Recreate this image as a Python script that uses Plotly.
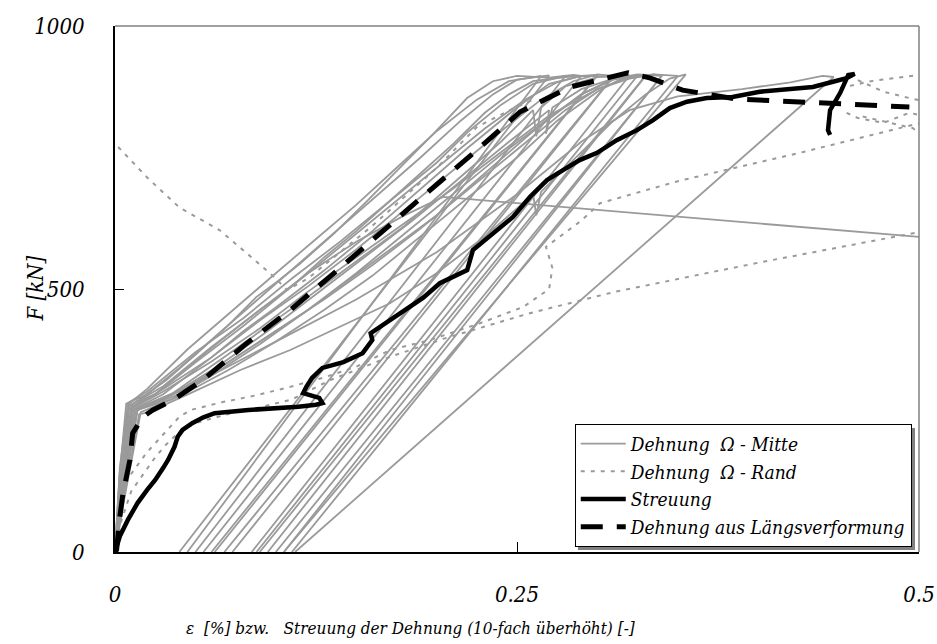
import plotly.graph_objects as go

# ---------------- data ----------------
# "Dehnung Omega - Mitte" (solid grey) : strain [%] vs force [kN]
MITTE_A_X = [0, 0.002, 0.005, 0.008, 0.015, 0.032, 0.05, 0.07, 0.088, 0.1, 0.115, 0.136, 0.157, 0.177, 0.198, 0.219, 0.235, 0.25, 0.27, 0.285, 0.29, 0.055]
MITTE_A_F = [0, 90, 200, 276, 290, 327, 375, 430, 485, 512, 548, 605, 668, 730, 795, 863, 895, 905, 902, 907, 905, 0]
MITTE_B_X = [0, 0.003, 0.007, 0.011, 0.025, 0.045, 0.065, 0.09, 0.11, 0.13, 0.15, 0.17, 0.19, 0.21, 0.23, 0.245, 0.26, 0.28, 0.30, 0.062]
MITTE_B_F = [0, 110, 220, 282, 300, 350, 400, 460, 505, 560, 610, 665, 720, 775, 835, 870, 895, 903, 906, 0]
MITTE_C_X = [0, 0.004, 0.008, 0.012, 0.03, 0.06, 0.08, 0.1, 0.13, 0.16, 0.19, 0.22, 0.25, 0.27, 0.29, 0.31, 0.073]
MITTE_C_F = [0, 100, 210, 272, 300, 370, 420, 465, 535, 610, 690, 770, 845, 890, 905, 904, 0]
MITTE_D_X = [0, 0.004, 0.01, 0.035, 0.07, 0.1, 0.12, 0.14, 0.18, 0.21, 0.24, 0.26, 0.262, 0.265, 0.28, 0.30, 0.32, 0.085]
MITTE_D_F = [0, 130, 268, 300, 375, 440, 485, 530, 620, 700, 780, 840, 790, 845, 885, 903, 906, 0]
MITTE_E_X = [0, 0.005, 0.014, 0.04, 0.08, 0.12, 0.16, 0.2, 0.23, 0.26, 0.29, 0.31, 0.33, 0.095]
MITTE_E_F = [0, 120, 270, 300, 380, 460, 550, 640, 720, 800, 870, 900, 905, 0]
MITTE_F_X = [0, 0.006, 0.015, 0.02, 0.047, 0.078, 0.109, 0.14, 0.171, 0.2, 0.23, 0.26, 0.262, 0.265, 0.29, 0.31, 0.33, 0.345, 0.355, 0.105]
MITTE_F_F = [0, 110, 262, 265, 302, 346, 384, 428, 473, 530, 600, 680, 640, 685, 760, 820, 870, 900, 908, 0]
MITTE_G_X = [0, 0.005, 0.012, 0.05, 0.1, 0.15, 0.2, 0.25, 0.29, 0.32, 0.35, 0.39, 0.42, 0.44, 0.447, 0.112]
MITTE_G_F = [0, 130, 270, 320, 400, 480, 570, 680, 780, 840, 866, 880, 893, 905, 903, 0]
MITTE_H_X = [0, 0.004, 0.009, 0.03, 0.06, 0.09, 0.12, 0.15, 0.18, 0.204, 0.5]
MITTE_H_F = [0, 140, 278, 315, 390, 460, 530, 590, 640, 675, 599]
MITTE_I_X = [0, 0.003, 0.009, 0.02, 0.05, 0.08, 0.11, 0.14, 0.17, 0.2, 0.22, 0.24, 0.26, 0.28, 0.05]
MITTE_I_F = [0, 150, 285, 305, 380, 445, 520, 590, 665, 740, 800, 850, 890, 905, 0]
MITTE_J_X = [0, 0.004, 0.011, 0.03, 0.06, 0.09, 0.12, 0.15, 0.18, 0.21, 0.24, 0.265, 0.285, 0.3, 0.31, 0.068]
MITTE_J_F = [0, 120, 275, 310, 370, 440, 505, 575, 650, 725, 800, 860, 895, 908, 905, 0]
MITTE_K_X = [0, 0.005, 0.013, 0.035, 0.065, 0.095, 0.125, 0.155, 0.185, 0.215, 0.245, 0.27, 0.268, 0.272, 0.29, 0.31, 0.325, 0.34, 0.1]
MITTE_K_F = [0, 115, 268, 298, 355, 420, 490, 560, 630, 705, 780, 840, 795, 845, 880, 900, 908, 905, 0]
MITTE_L_X = [0, 0.003, 0.008, 0.02, 0.045, 0.075, 0.1, 0.125, 0.15, 0.175, 0.2, 0.225, 0.245, 0.265, 0.045]
MITTE_L_F = [0, 160, 280, 310, 385, 465, 530, 595, 660, 730, 800, 860, 895, 905, 0]
MITTE_M_X = [0, 0.004, 0.01, 0.03, 0.06, 0.09, 0.12, 0.15, 0.18, 0.21, 0.24, 0.27, 0.3, 0.32, 0.335, 0.35, 0.11]
MITTE_M_F = [0, 125, 272, 305, 362, 425, 495, 560, 625, 690, 760, 830, 880, 903, 908, 905, 0]
MITTE_N_X = [0, 0.006, 0.016, 0.04, 0.07, 0.1, 0.13, 0.16, 0.19, 0.22, 0.25, 0.275, 0.3, 0.315, 0.33, 0.09]
MITTE_N_F = [0, 105, 266, 296, 345, 400, 460, 525, 600, 675, 750, 820, 875, 900, 906, 0]
MITTE_O_X = [0, 0.004, 0.01, 0.025, 0.05, 0.08, 0.11, 0.14, 0.17, 0.2, 0.23, 0.255, 0.275, 0.29, 0.3, 0.06]
MITTE_O_F = [0, 130, 276, 300, 360, 430, 505, 580, 655, 730, 805, 860, 893, 905, 907, 0]
MITTE_P_X = [0, 0.005, 0.012, 0.04, 0.07, 0.1, 0.13, 0.16, 0.19, 0.22, 0.25, 0.28, 0.3, 0.32, 0.335, 0.34, 0.105]
MITTE_P_F = [0, 115, 270, 305, 360, 420, 480, 545, 615, 690, 765, 840, 880, 900, 908, 905, 0]
MITTE_Q_X = [0, 0.003, 0.007, 0.02, 0.04, 0.07, 0.1, 0.13, 0.16, 0.19, 0.215, 0.235, 0.25, 0.27, 0.04]
MITTE_Q_F = [0, 150, 282, 300, 350, 430, 510, 590, 670, 750, 820, 870, 898, 906, 0]
MITTE_R_X = [0, 0.006, 0.014, 0.035, 0.06, 0.09, 0.12, 0.15, 0.18, 0.21, 0.24, 0.27, 0.29, 0.31, 0.325, 0.088]
MITTE_R_F = [0, 120, 270, 290, 335, 395, 460, 530, 605, 680, 755, 825, 870, 898, 906, 0]

# "Dehnung Omega - Rand" (dotted grey)
RAND_1_X = [0, 0.004, 0.01, 0.018, 0.025, 0.032, 0.04, 0.05, 0.07, 0.09, 0.11, 0.134, 0.17, 0.206, 0.258, 0.31, 0.4, 0.5]
RAND_1_F = [0, 60, 115, 150, 180, 205, 228, 245, 262, 275, 290, 327, 370, 407, 454, 494, 550, 608]
RAND_2_X = [0, 0.003, 0.008, 0.015, 0.02, 0.026, 0.032, 0.04, 0.047, 0.067, 0.088, 0.109, 0.129, 0.15, 0.171, 0.196, 0.227, 0.254, 0.27, 0.272, 0.268, 0.29, 0.3016, 0.35, 0.426, 0.5]
RAND_2_F = [0, 80, 140, 170, 190, 210, 230, 257, 270, 285, 298, 314, 331, 352, 384, 403, 435, 466, 500, 540, 580, 630, 663, 705, 759, 815]
RAND_3_X = [0.002, 0.02, 0.04, 0.065, 0.085, 0.1, 0.107, 0.12, 0.16, 0.2, 0.225, 0.2456, 0.26]
RAND_3_F = [770, 712, 655, 612, 560, 520, 498, 520, 620, 730, 808, 840, 860]
RAND_4_X = [0.451, 0.47, 0.5]
RAND_4_F = [882, 895, 907]
RAND_5_X = [0.462, 0.478, 0.494, 0.5]
RAND_5_F = [897, 875, 863, 859]
RAND_6_X = [0.455, 0.462, 0.478, 0.494, 0.5]
RAND_6_F = [835, 825, 816, 835, 831]
RAND_7_X = [0.465, 0.48, 0.496, 0.5]
RAND_7_F = [828, 817, 806, 797]

# "Streuung" (thick black)
STREU_X = [0, 0.003, 0.008, 0.014, 0.02, 0.025, 0.03, 0.033, 0.037, 0.039, 0.042, 0.048, 0.055, 0.062, 0.083, 0.1, 0.114, 0.125, 0.129, 0.127, 0.117, 0.119, 0.1225, 0.129, 0.142, 0.154, 0.160, 0.159, 0.167, 0.1915, 0.202, 0.219, 0.2226, 0.2376, 0.2475, 0.258, 0.2687, 0.2786, 0.289, 0.2998, 0.312, 0.3246, 0.3346, 0.345, 0.3557, 0.368, 0.384, 0.401, 0.418, 0.434, 0.4465, 0.455, 0.460, 0.456, 0.451, 0.4447, 0.4434, 0.4447]
STREU_F = [0, 30, 61, 93, 118, 137, 160, 175, 200, 219, 232, 245, 256, 264, 270, 273, 276, 280, 283, 293, 302, 314, 331, 350, 361, 378, 403, 416, 432, 483, 511, 536, 574, 612, 637, 675, 707, 726, 745, 759, 783, 802, 821, 844, 856, 863, 865, 875, 880, 884, 894, 901, 909, 907, 873, 840, 802, 793]

# "Dehnung aus Laengsverformung" (thick black dashed)
LAENGS_X = [0, 0.001, 0.003, 0.005, 0.0093, 0.011, 0.0174, 0.0236, 0.036, 0.0547, 0.082, 0.109, 0.14, 0.1667, 0.196, 0.225, 0.252, 0.283, 0.319, 0.333, 0.353, 0.387, 0.423, 0.459, 0.494]
LAENGS_F = [0, 4, 67, 112, 175, 226, 257, 270, 289, 327, 397, 460, 540, 612, 688, 764, 837, 884, 911, 901, 878, 861, 856, 852, 846]

X_TICKS = [0, 0.25, 0.5]
X_TICK_TEXT = ["0", "0.25", "0.5"]
Y_TICKS = [0, 500, 1000]
Y_TICK_TEXT = ["0", "500", "1000"]

LEGEND_NAMES = ["Dehnung\u00a0 \u03a9 - Mitte", "Dehnung\u00a0 \u03a9 - Rand", "Streuung", "Dehnung aus L\u00e4ngsverformung"]
X_TITLE = "\u03b5\u00a0 [%] bzw.\u00a0\u00a0 Streuung der Dehnung (10-fach \u00fcberh\u00f6ht) [-]"
Y_TITLE = "F [kN]"

# ---------------- figure ----------------
GREY = "#9a9a9a"
SERIF = "DejaVu Serif Condensed, DejaVu Serif"

fig = go.Figure()

mitte = [(MITTE_A_X, MITTE_A_F), (MITTE_B_X, MITTE_B_F), (MITTE_C_X, MITTE_C_F),
         (MITTE_D_X, MITTE_D_F), (MITTE_E_X, MITTE_E_F), (MITTE_F_X, MITTE_F_F),
         (MITTE_G_X, MITTE_G_F), (MITTE_H_X, MITTE_H_F), (MITTE_I_X, MITTE_I_F),
         (MITTE_J_X, MITTE_J_F), (MITTE_K_X, MITTE_K_F), (MITTE_L_X, MITTE_L_F),
         (MITTE_M_X, MITTE_M_F), (MITTE_N_X, MITTE_N_F), (MITTE_O_X, MITTE_O_F),
         (MITTE_P_X, MITTE_P_F), (MITTE_Q_X, MITTE_Q_F), (MITTE_R_X, MITTE_R_F)]
for i, (xs, fs) in enumerate(mitte):
    fig.add_trace(go.Scatter(x=xs, y=fs, mode="lines", name=LEGEND_NAMES[0],
                             legendgroup="mitte", showlegend=(i == 0),
                             line=dict(color=GREY, width=1.8), legendrank=1))

rand = [(RAND_1_X, RAND_1_F), (RAND_2_X, RAND_2_F), (RAND_3_X, RAND_3_F),
        (RAND_4_X, RAND_4_F), (RAND_5_X, RAND_5_F), (RAND_6_X, RAND_6_F),
        (RAND_7_X, RAND_7_F)]
for i, (xs, fs) in enumerate(rand):
    fig.add_trace(go.Scatter(x=xs, y=fs, mode="lines", name=LEGEND_NAMES[1],
                             legendgroup="rand", showlegend=(i == 0),
                             line=dict(color=GREY, width=2, dash="4px,6px"), legendrank=2))

fig.add_trace(go.Scatter(x=STREU_X, y=STREU_F, mode="lines", name=LEGEND_NAMES[2],
                         line=dict(color="black", width=4.5), legendrank=3))
fig.add_trace(go.Scatter(x=LAENGS_X, y=LAENGS_F, mode="lines", name=LEGEND_NAMES[3],
                         line=dict(color="black", width=5, dash="22px,14px"), legendrank=4))

fig.update_layout(
    width=937, height=644,
    margin=dict(l=115, r=18, t=26, b=92),
    paper_bgcolor="white", plot_bgcolor="white",
    font=dict(family=SERIF, color="black"),
    showlegend=True,
    legend=dict(x=0.991, y=0.01, xanchor="right", yanchor="bottom",
                bgcolor="white", bordercolor="black", borderwidth=1,
                font=dict(family=SERIF, size=19, style="italic"),
                itemwidth=45, tracegroupgap=0),
    xaxis=dict(range=[0, 0.5], tickvals=X_TICKS, ticktext=X_TICK_TEXT,
               ticks="inside", ticklen=10, tickwidth=1, tickcolor="black",
               showline=True, linecolor="black", linewidth=2,
               showgrid=False, zeroline=False, ticklabelstandoff=22,
               automargin=False, ticklabeloverflow="allow",
               tickfont=dict(family=SERIF, size=22, style="italic")),
    yaxis=dict(range=[0, 1000], tickvals=Y_TICKS, ticktext=Y_TICK_TEXT,
               ticks="inside", ticklen=9, tickwidth=1, tickcolor="black",
               showline=True, linecolor="black", linewidth=2,
               showgrid=False, zeroline=False, ticklabelstandoff=24,
               automargin=False, ticklabeloverflow="allow",
               tickfont=dict(family=SERIF, size=22, style="italic")),
    annotations=[
        dict(text=X_TITLE, xref="paper", yref="paper", x=0.367, y=-0.145,
             xanchor="center", yanchor="middle", showarrow=False,
             font=dict(family=SERIF, size=17, style="italic")),
        dict(text=Y_TITLE, xref="paper", yref="paper", x=-0.1, y=0.5,
             xanchor="center", yanchor="middle", showarrow=False, textangle=-90,
             font=dict(family=SERIF, size=22, style="italic")),
    ],
)

# legend drop shadow (drawn beneath the legend box)
fig.add_shape(type="rect", xref="paper", yref="paper",
              x0=0.5759, x1=0.995, y0=0.0038, y1=0.2357,
              line=dict(width=0), fillcolor="#808080", layer="above")

# grey top and right frame lines
fig.add_shape(type="line", xref="paper", yref="paper", x0=0, x1=1, y0=1, y1=1,
              line=dict(color="#808080", width=1.5))
fig.add_shape(type="line", xref="paper", yref="paper", x0=1, x1=1, y0=0, y1=1,
              line=dict(color="#808080", width=1.5))

fig.write_html("out.html")
